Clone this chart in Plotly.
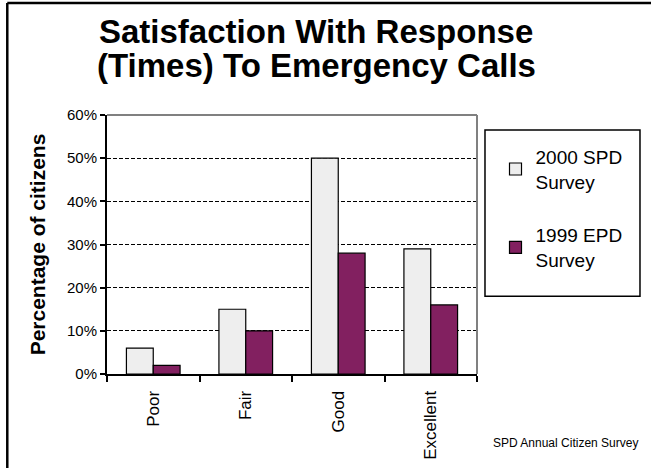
import plotly.graph_objects as go

categories = ["Poor", "Fair", "Good", "Excellent"]
spd_2000 = [6, 15, 50, 29]
epd_1999 = [2, 10, 28, 16]
series_names = ["2000 SPD<br>Survey", "1999 EPD<br>Survey"]
y_ticks = [0, 10, 20, 30, 40, 50, 60]
y_tick_labels = ["0%", "10%", "20%", "30%", "40%", "50%", "60%"]
title_lines = ["Satisfaction With Response", "(Times) To Emergency Calls"]

FONT = "Liberation Sans, Arial, sans-serif"

fig = go.Figure()
fig.add_trace(go.Bar(x=categories, y=spd_2000, name=series_names[0],
                     marker=dict(color="#EEEEEE", line=dict(color="black", width=1.2)),
                     legendgroup="a"))
fig.add_trace(go.Bar(x=categories, y=epd_1999, name=series_names[1],
                     marker=dict(color="#822060", line=dict(color="black", width=1.2)),
                     legendgroup="b"))

fig.update_layout(
    width=651, height=468,
    margin=dict(l=107, r=174, t=115, b=94, autoexpand=False),
    paper_bgcolor="white", plot_bgcolor="white",
    font=dict(family=FONT, color="black"),
    barmode="group", bargap=0.42, bargroupgap=0,
    showlegend=True,
    legend=dict(x=1.05, xanchor="left", y=0.912, yanchor="top",
                font=dict(size=19, family=FONT), bgcolor="rgba(0,0,0,0)",
                borderwidth=0, traceorder="grouped", tracegroupgap=26,
                itemwidth=30),
    xaxis=dict(showline=True, linecolor="black", linewidth=2,
               ticks="outside", ticklen=6, tickwidth=2, tickcolor="black",
               tickson="boundaries", tickangle=-90, ticklabelstandoff=8,
               tickfont=dict(size=17, family=FONT), showgrid=False,
               automargin=False),
    yaxis=dict(range=[0, 60], tickvals=y_ticks, ticktext=y_tick_labels,
               showline=True, linecolor="black", linewidth=2,
               ticks="outside", ticklen=5, tickwidth=1.5, tickcolor="black",
               tickfont=dict(size=15, family=FONT),
               showgrid=True, gridcolor="black", gridwidth=1, griddash="4px,2px",
               zeroline=False, automargin=False,
               title=dict(text="<b>Percentage of citizens</b>", standoff=16,
                          font=dict(size=21, family=FONT))),
)

# title as two lines (tight line spacing)
fig.add_annotation(text="<b>" + title_lines[0] + "</b>", xref="paper", yref="paper",
                   x=0.565, y=1.322, xanchor="center", yanchor="middle", showarrow=False,
                   font=dict(size=33, family=FONT, color="black"))
fig.add_annotation(text="<b>" + title_lines[1] + "</b>", xref="paper", yref="paper",
                   x=0.565, y=1.191, xanchor="center", yanchor="middle", showarrow=False,
                   font=dict(size=33, family=FONT, color="black"))

# gray frame on top and right of plot area
fig.add_shape(type="line", xref="paper", yref="paper", x0=0, x1=1, y0=1, y1=1,
              line=dict(color="#808080", width=2))
fig.add_shape(type="line", xref="paper", yref="paper", x0=1, x1=1, y0=0, y1=1,
              line=dict(color="#808080", width=2))
# legend box
fig.add_shape(type="rect", xref="paper", yref="paper", x0=1.0216, x1=1.4405,
              y0=0.30, y1=0.942, line=dict(color="black", width=1.5))
# outer border (left and top)
fig.add_shape(type="line", xref="paper", yref="paper", x0=-0.2695, x1=1.5, y0=1.432, y1=1.432,
              line=dict(color="black", width=2.5))
fig.add_shape(type="line", xref="paper", yref="paper", x0=-0.2695, x1=-0.2695, y0=-0.4, y1=1.432,
              line=dict(color="black", width=2.5))

fig.add_annotation(text="SPD Annual Citizen Survey", xref="paper", yref="paper",
                   x=1.44, y=-0.265, xanchor="right", yanchor="middle", showarrow=False,
                   font=dict(size=12, family=FONT))

fig.write_html("out.html", config={"displayModeBar": False},
               post_script="document.body.style.margin='0';")
